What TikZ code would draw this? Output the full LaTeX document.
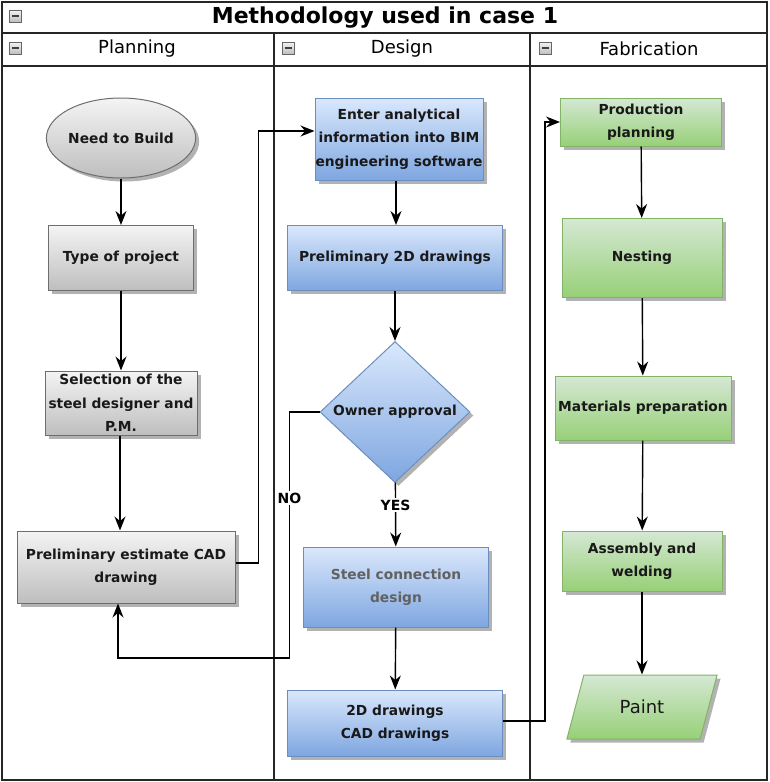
\documentclass[tikz,border=0pt]{standalone}
\usepackage{fontspec}
\setmainfont{DejaVu Sans}
\usepackage{xcolor}
\usetikzlibrary{shapes.geometric,arrows.meta,shadows,positioning,calc}

\definecolor{greyline}{HTML}{6E6E6E}
\definecolor{greytop}{HTML}{F4F4F4}
\definecolor{greybot}{HTML}{BEBEBE}
\definecolor{blueline}{HTML}{6C8EBF}
\definecolor{bluetop}{HTML}{DAE8FC}
\definecolor{bluebot}{HTML}{7EA6E0}
\definecolor{greenline}{HTML}{82B366}
\definecolor{greentop}{HTML}{D5E8D4}
\definecolor{greenbot}{HTML}{97D077}

\tikzset{
    boxtext/.style={font=\fontsize{13.8}{23.5}\selectfont\bfseries, align=center, text=black!90, inner sep=0pt},
    boxshade/.style={drop shadow={shadow xshift=3.5pt, shadow yshift=-3.5pt, opacity=0.3, fill=black}},
    greybox/.style={boxtext, boxshade, draw=greyline, line width=1pt, top color=greytop, bottom color=greybot},
    bluebox/.style={boxtext, boxshade, draw=blueline, line width=1pt, top color=bluetop, bottom color=bluebot},
    greenbox/.style={boxtext, boxshade, draw=greenline, line width=1pt, top color=greentop, bottom color=greenbot},
    lanetitle/.style={font=\fontsize{18}{20}\selectfont},
    minusbox/.style={draw=gray!80!black, line width=0.7pt, top color=gray!10, bottom color=gray!50,
        minimum size=12pt, inner sep=0pt,
        path picture={\draw[line width=1.6pt, black!75] ([xshift=2.5pt]path picture bounding box.west) -- ([xshift=-2.5pt]path picture bounding box.east);}},
    arr/.style={-{Stealth[length=14pt,width=11pt]}, line width=1.4pt},
    answer/.style={font=\fontsize{14}{16}\selectfont\bfseries, fill=white, inner sep=2pt}
}

\begin{document}
\begin{tikzpicture}[x=1pt, y=-1pt]
    \useasboundingbox (0,0) rectangle (769,782);

    % Swimlanes
    \draw[line width=1.6pt, black!85] (2,2) rectangle (767,780);
    \draw[line width=1.6pt, black!85] (2,33) -- (767,33) (2,66) -- (767,66);
    \draw[line width=1.6pt, black!85] (274,33) -- (274,780) (530,33) -- (530,780);
    \node[font=\fontsize{22}{24}\selectfont\bfseries] (title) at (385,18) {Methodology used in case 1};
    \node[lanetitle] (plan) at (137,49) {Planning};
    \node[lanetitle] (des) at (402,49) {Design};
    \node[lanetitle] (fab) at (649,49) {Fabrication};
    \node[minusbox] (m0) at (15,16) {};
    \node[minusbox] (m1) at (15,48) {};
    \node[minusbox] (m2) at (288,48) {};
    \node[minusbox] (m3) at (545,48) {};

    % Planning
    \node[greybox, ellipse, minimum width=145pt, minimum height=80pt] (need) at (121,138) {Need to Build};
    \node[greybox, minimum width=145pt, minimum height=65pt] (type) at (121,258) {Type of project};
    \node[greybox, minimum width=152pt, minimum height=64pt] (sel) at (121,403) {Selection of the\\steel designer and\\P.M.};
    \node[greybox, minimum width=218pt, minimum height=72pt] (est) at (126,567) {Preliminary estimate CAD\\drawing};

    % Design
    \node[bluebox, minimum width=168pt, minimum height=82pt] (enter) at (399,139) {Enter analytical\\information into BIM\\engineering software};
    \node[bluebox, minimum width=215pt, minimum height=65pt] (pre2d) at (395,258) {Preliminary 2D drawings};
    \node[bluebox, diamond, minimum width=150pt, minimum height=141pt] (owner) at (395,412) {Owner approval};
    \node[bluebox, text=black!62, minimum width=185pt, minimum height=80pt] (steel) at (396,587) {Steel connection\\design};
    \node[bluebox, minimum width=215pt, minimum height=66pt] (cad) at (395,723) {2D drawings\\CAD drawings};

    % Fabrication
    \node[greenbox, minimum width=161pt, minimum height=48pt] (prod) at (641,122) {Production\\planning};
    \node[greenbox, minimum width=160pt, minimum height=79pt] (nest) at (642,258) {Nesting};
    \node[greenbox, minimum width=176pt, minimum height=64pt] (mat) at (643,408) {Materials preparation};
    \node[greenbox, minimum width=160pt, minimum height=60pt] (asm) at (642,561) {Assembly and\\welding};
    \node[greenbox, trapezium, trapezium left angle=65, trapezium right angle=115, trapezium stretches=true,
        minimum width=151pt, minimum height=64pt, font=\fontsize{18}{20}\selectfont] (paint) at (642,707) {Paint};

    % Connectors
    \draw[arr] (need) -- (type);
    \draw[arr] (type) -- (sel);
    \draw[arr] ([xshift=-1pt]sel.south) -- ([xshift=-6pt]est.north);
    \draw[arr] ([yshift=4pt]est.east) -- ++(23,0) |- ([yshift=8pt]enter.west);
    \draw[arr] ([xshift=-3pt]enter.south) -- ([xshift=1pt]pre2d.north);
    \draw[arr] (pre2d) -- (owner);
    \draw[arr] (owner) -- node[answer, pos=0.35] (yes) {YES} (steel);
    \draw[arr] (owner.west) -- ++(-30,0) -- node[answer, pos=0.35] (no) {NO} ++(0,246) -| ([xshift=-8pt]est.south);
    \draw[arr] (steel) -- (cad);
    \draw[arr] ([yshift=2pt]cad.east) -- ++(42,0) |- (prod.west);
    \draw[arr] (prod) -- (nest);
    \draw[arr] (nest) -- (mat);
    \draw[arr] (mat) -- (asm);
    \draw[arr] (asm) -- (paint);
\end{tikzpicture}
\end{document}
